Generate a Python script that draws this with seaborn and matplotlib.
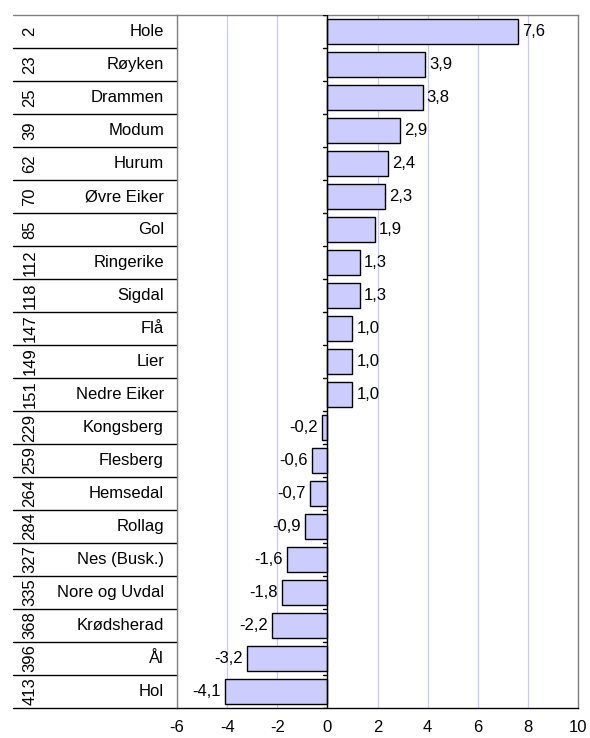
import matplotlib
matplotlib.use("Agg")
import matplotlib.pyplot as plt
import matplotlib.transforms as mtransforms
import seaborn as sns
import pandas as pd

# Data
ranks = [2, 23, 25, 39, 62, 70, 85, 112, 118, 147, 149, 151,
         229, 259, 264, 284, 327, 335, 368, 396, 413]
names = ["Hole", "Røyken", "Drammen", "Modum", "Hurum", "Øvre Eiker", "Gol",
         "Ringerike", "Sigdal", "Flå", "Lier", "Nedre Eiker", "Kongsberg",
         "Flesberg", "Hemsedal", "Rollag", "Nes (Busk.)", "Nore og Uvdal",
         "Krødsherad", "Ål", "Hol"]
values = [7.6, 3.9, 3.8, 2.9, 2.4, 2.3, 1.9, 1.3, 1.3, 1.0, 1.0, 1.0,
          -0.2, -0.6, -0.7, -0.9, -1.6, -1.8, -2.2, -3.2, -4.1]
x_ticks = [-6, -4, -2, 0, 2, 4, 6, 8, 10]

df = pd.DataFrame({"name": names, "value": values})

sns.set_style("white")
plt.rcParams["font.family"] = ["Liberation Sans", "DejaVu Sans"]
plt.rcParams["text.color"] = "black"
plt.rcParams["xtick.color"] = "black"
plt.rcParams["xtick.labelcolor"] = "black"
FS = 12

W, H = 590, 738
fig = plt.figure(figsize=(W / 100, H / 100), dpi=100)
left, right, top, bottom = 177, 578, 15, 708
ax = fig.add_axes([left / W, 1 - bottom / H, (right - left) / W, (bottom - top) / H])

sns.barplot(data=df, x="value", y="name", orient="h", color="#CCCCFF",
            saturation=1, edgecolor="black", linewidth=1, width=0.78, ax=ax)

ax.set_xlim(-6, 10)
ax.set_ylim(len(names) - 0.5, -0.5)
ax.set_xticks(x_ticks)
ax.set_xticklabels([str(t) for t in x_ticks], fontsize=FS)
ax.set_xlabel("")
ax.set_ylabel("")
ax.set_yticks([])
ax.tick_params(axis="x", direction="out", length=4, width=1, color="black",
               labelcolor="black", pad=5)

ax.grid(axis="x", color="#C8C8FF", linewidth=0.9)
ax.set_axisbelow(True)

for side in ["top", "right", "left"]:
    ax.spines[side].set_color("#808080")
    ax.spines[side].set_linewidth(1)
ax.spines["bottom"].set_color("black")
ax.spines["bottom"].set_linewidth(1)

# zero axis with small category ticks
ax.axvline(0, color="black", linewidth=1, zorder=3)
for i in range(len(names) + 1):
    ax.plot([-0.16, 0], [i - 0.5, i - 0.5], color="black", lw=1, zorder=3)

# value labels with comma decimals
ax.bar_label(ax.containers[0],
             labels=[f"{v:.1f}".replace(".", ",") for v in values],
             padding=3, fontsize=FS, color="black")

# table on the left: rank and name per row
trans = mtransforms.blended_transform_factory(ax.transAxes, ax.transData)
x_start = (13 - left) / (right - left)
for i, (r, n) in enumerate(zip(ranks, names)):
    ax.text((30 - left) / (right - left), i, str(r), rotation=90,
            ha="center", va="center", fontsize=FS, color="black", transform=trans)
    ax.text((164 - left) / (right - left), i, n, ha="right", va="center",
            fontsize=FS, color="black", transform=trans)
for i in range(len(names) + 1):
    col = "#808080" if i == 0 else "black"
    ax.plot([x_start, 0], [i - 0.5, i - 0.5], color=col, lw=1,
            transform=trans, clip_on=False)

fig.savefig("out.png", dpi=100, facecolor="white")
